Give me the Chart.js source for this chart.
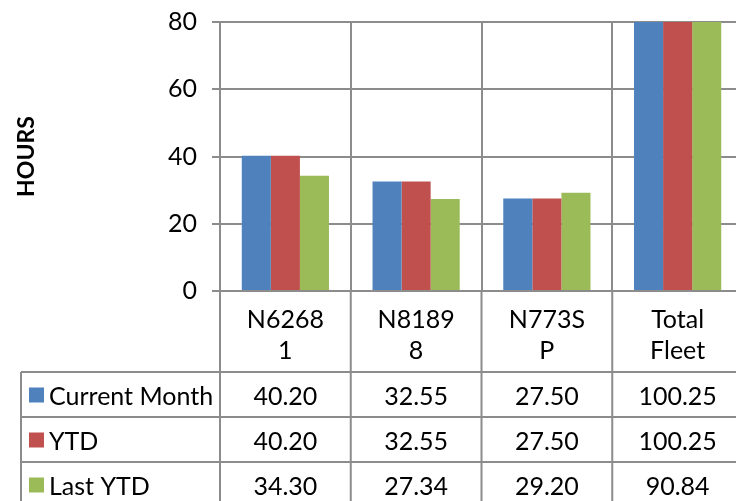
<!DOCTYPE html>
<html lang="en">
<head>
    <meta charset="UTF-8">
    <title>Hours</title>
    <script src="https://cdn.jsdelivr.net/npm/chart.js"></script>
    <style>
        html, body { margin: 0; padding: 0; background: #fff; overflow: hidden; }
        #wrap { width: 756px; height: 501px; }
    </style>
</head>
<body>
    <div id="wrap">
        <canvas id="hoursChart" width="756" height="501"></canvas>
    </div>

    <script>
        // aircraft (label lines as wrapped in the original)
        const categories = [['N6268', '1'], ['N8189', '8'], ['N773S', 'P'], ['Total', 'Fleet']];
        const seriesNames = ['Current Month', 'YTD', 'Last YTD'];
        const currentMonth = [40.20, 32.55, 27.50, 100.25];
        const ytd = [40.20, 32.55, 27.50, 100.25];
        const lastYtd = [34.30, 27.34, 29.20, 90.84];
        const yTicks = [0, 20, 40, 60, 80];

        const colors = ['#4F81BD', '#C0504D', '#9BBB59'];
        const gridColor = '#8c8c8c';
        const fontFamily = 'Lato, "Open Sans", sans-serif';
        const fontSize = 25;
        const series = [currentMonth, ytd, lastYtd];

        // table under the plot, uses the x scale for column edges
        const dataTable = {
            id: 'dataTable',
            afterDraw(chart) {
                const ctx = chart.ctx;
                const area = chart.chartArea;
                const x = chart.scales.x;
                const n = categories.length;
                const colW = (area.right - area.left) / n;
                const tableLeft = 21;
                const headTop = area.bottom;
                const rowsTop = 372;
                const rowH = 45;
                const bottom = chart.height + 10;

                ctx.save();
                ctx.strokeStyle = gridColor;
                ctx.lineWidth = 2;

                // vertical lines
                ctx.beginPath();
                for (let i = 0; i <= n; i++) {
                    const bx = x.getPixelForValue(i) - colW / 2;
                    ctx.moveTo(bx, headTop);
                    ctx.lineTo(bx, bottom);
                }
                ctx.moveTo(tableLeft, rowsTop);
                ctx.lineTo(tableLeft, bottom);
                // horizontal lines
                for (let r = 0; r <= series.length; r++) {
                    const y = rowsTop + r * rowH;
                    ctx.moveTo(tableLeft, y);
                    ctx.lineTo(area.right, y);
                }
                ctx.stroke();

                ctx.fillStyle = '#000';
                ctx.font = fontSize + 'px ' + fontFamily;
                ctx.textAlign = 'center';
                ctx.textBaseline = 'middle';

                // category labels
                categories.forEach((lines, i) => {
                    const cx = x.getPixelForValue(i);
                    lines.forEach((t, k) => ctx.fillText(t, cx, 320 + k * 31));
                });

                // rows
                series.forEach((vals, r) => {
                    const cy = rowsTop + r * rowH + rowH / 2 + 2;
                    ctx.fillStyle = colors[r];
                    ctx.fillRect(29, cy - 9, 15, 15);
                    ctx.fillStyle = '#000';
                    ctx.textAlign = 'left';
                    ctx.fillText(seriesNames[r], 49, cy);
                    ctx.textAlign = 'center';
                    vals.forEach((v, i) => ctx.fillText(v.toFixed(2), x.getPixelForValue(i), cy));
                });
                ctx.restore();
            }
        };

        new Chart(document.getElementById('hoursChart'), {
            type: 'bar',
            data: {
                labels: categories.map(c => c.join(' ')),
                datasets: series.map((vals, i) => ({
                    label: seriesNames[i],
                    data: vals,
                    backgroundColor: colors[i],
                    borderWidth: 0,
                    barPercentage: 1,
                    categoryPercentage: 0.667
                }))
            },
            options: {
                responsive: false,
                animation: false,
                devicePixelRatio: 1,
                layout: { padding: { top: 22, right: 13, bottom: 210, left: 0 } },
                plugins: { legend: { display: false }, tooltip: { enabled: false } },
                scales: {
                    x: {
                        ticks: { display: false },
                        grid: { color: gridColor, lineWidth: 2, drawTicks: false, offset: true },
                        border: { color: gridColor, width: 2 },
                        afterFit(scale) { scale.height = 0; }
                    },
                    y: {
                        min: 0,
                        max: 80,
                        afterBuildTicks(scale) { scale.ticks = yTicks.map(v => ({ value: v })); },
                        ticks: {
                            color: '#000',
                            padding: 15,
                            font: { family: fontFamily, size: fontSize }
                        },
                        grid: { color: gridColor, lineWidth: 2, tickLength: 8 },
                        border: { color: gridColor, width: 2 },
                        title: {
                            display: true,
                            text: 'HOURS',
                            color: '#000',
                            font: { family: fontFamily, size: 23, weight: 'bold' },
                            padding: { top: 13, bottom: 0 }
                        },
                        afterFit(scale) {
                            scale.width = 220;
                            scale.paddingTop = 0;
                            scale.paddingBottom = 0;
                        }
                    }
                }
            },
            plugins: [dataTable]
        });
    </script>
</body>
</html>
